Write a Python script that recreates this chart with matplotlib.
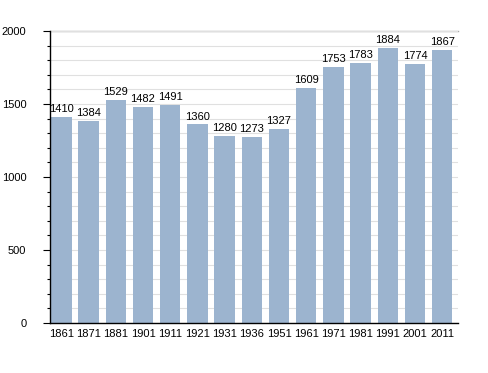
import matplotlib
matplotlib.use("Agg")
import matplotlib.pyplot as plt
from matplotlib.ticker import MultipleLocator

years = ["1861", "1871", "1881", "1901", "1911", "1921", "1931", "1936",
         "1951", "1961", "1971", "1981", "1991", "2001", "2011"]
population = [1410, 1384, 1529, 1482, 1491, 1360, 1280, 1273,
              1327, 1609, 1753, 1783, 1884, 1774, 1867]

plt.rcParams['font.family'] = ['Liberation Sans', 'DejaVu Sans']

fig = plt.figure(figsize=(4.88, 3.73), dpi=100)
ax = fig.add_axes([50/488, 1-323/373, 408/488, (323-31)/373])

x = list(range(len(years)))
bars = ax.bar(x, population, width=0.75, color="#9cb4cf", zorder=2)
for xi, v in zip(x, population):
    ax.text(xi, v + 20, str(v), ha="center", va="bottom", fontsize=8, color="black", zorder=3)

ax.set_xlim(-0.42, 14.58)
ax.set_ylim(0, 2000)
ax.set_xticks(x)
ax.set_xticklabels(years, fontsize=8)
ax.set_yticks([0, 500, 1000, 1500, 2000])
ax.set_yticklabels(["0", "500", "1000", "1500", "2000"], fontsize=8)
ax.yaxis.set_minor_locator(MultipleLocator(100))
ax.tick_params(axis="y", which="major", length=5, width=0.8, pad=12)
ax.tick_params(axis="y", which="minor", length=2.5, width=0.8)
ax.tick_params(axis="x", length=0, pad=4)

ax.grid(axis="y", which="both", color="#e0e0e0", linewidth=0.8, zorder=0)
ax.axhline(2000, color="#aaaaaa", linewidth=1.0, zorder=1, clip_on=False)
for s in ["top", "right"]:
    ax.spines[s].set_visible(False)
ax.spines["left"].set_linewidth(1.0)
ax.spines["bottom"].set_linewidth(1.0)

fig.savefig("out.png", dpi=100)
